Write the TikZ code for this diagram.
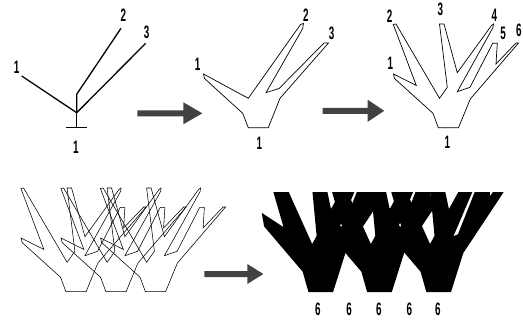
\documentclass[tikz,border=0pt]{standalone}
\usepackage{fontspec}
\setmainfont{Liberation Sans}
\definecolor{arrowgray}{RGB}{66,66,66}
% condensed bold digits
\newcommand\lbl[1]{\scalebox{0.55}[1]{#1}}
% outline of the six-branch tree, base centre at the origin
\newcommand\treeshape{(-54.9,-53.7) -- (-32.1,-42.2) -- (-55.1,-103.2) -- (-52.4,-103.7)
  -- (-8.9,-29.4) -- (-1.1,-40.4) -- (-8.9,-103.7) -- (-4.4,-103.7) -- (8.9,-55)
  -- (43.1,-102.2) -- (45.1,-103.7) -- (44.6,-100.2) -- (8.9,-36) -- (21.6,-40.4)
  -- (44.3,-84.4) -- (48.9,-84.4) -- (47.6,-63.7) -- (67.6,-84.7) -- (70.1,-84.7)
  -- (21.9,-28.7) -- (10.1,0) -- (-10.1,0) -- (-15.4,-14.4) -- (-53.9,-49.2) -- cycle}
\begin{document}
\begin{tikzpicture}[x=1pt,y=-1pt,
  wire/.style={line width=1.3pt, line join=miter},
  outline/.style={line width=0.7pt, line join=miter},
  overlay line/.style={line width=0.55pt, line join=miter},
  solid tree/.style={fill=black, draw=black, line width=6pt, line join=miter},
  digit/.style={font=\bfseries\fontsize{18}{18}\selectfont, inner sep=0pt},
  blockarrow/.style={fill=arrowgray, draw=none}]
\useasboundingbox (0,0) rectangle (523,321);

% ---- stage 1: line skeleton ----
\coordinate (j) at (76.7,112.7);
\coordinate (t1) at (21.7,76);
\coordinate (t2) at (121,28.3);
\coordinate (k2) at (76.7,94.3);
\coordinate (t3) at (145.7,43.3);
\coordinate (s) at (76.7,127.3);
\coordinate (bl) at (66,127.3);
\coordinate (br) at (87.3,127.3);
\draw[wire] (t1) -- (j);
\draw[wire] (t2) -- (k2) -- (j);
\draw[wire] (t3) -- (j);
\draw[wire] (j) -- (s);
\draw[wire] (bl) -- (br);
\node[digit] (a1) at (16.7,67.5) {\lbl{1}};
\node[digit] (a2) at (123.3,15.5) {\lbl{2}};
\node[digit] (a3) at (146.7,32) {\lbl{3}};
\node[digit] (a4) at (76,147.5) {\lbl{1}};

% ---- stage 2: three-branch outline ----
\draw[outline] (203.5,74) -- (248.3,98.3) -- (300.5,24.5) -- (303.5,23.5) -- (302.7,28.5)
  -- (266,92.7) -- (279.3,88.3) -- (324,43) -- (328.5,43) -- (280,98.3)
  -- (268.3,127.7) -- (248.3,127.7) -- (242.7,113.3) -- (204.5,78.5) -- cycle;
\node[digit] (b1) at (197.7,64) {\lbl{1}};
\node[digit] (b2) at (306,15) {\lbl{2}};
\node[digit] (b3) at (331.7,33) {\lbl{3}};
\node[digit] (b4) at (259.3,143) {\lbl{1}};

% ---- stage 3: six-branch outline ----
\begin{scope}[shift={(448.4,127.7)}]
  \draw[outline] \treeshape;
\end{scope}
\node[digit] (c1) at (390.3,63.7) {\lbl{1}};
\node[digit] (c2) at (389.7,16) {\lbl{2}};
\node[digit] (c3) at (440.5,9.5) {\lbl{3}};
\node[digit] (c4) at (494.5,15) {\lbl{4}};
\node[digit] (c5) at (503,33) {\lbl{5}};
\node[digit] (c6) at (519,30) {\lbl{6}};
\node[digit] (c7) at (447.3,142.7) {\lbl{1}};

% ---- stage 4: overlapping copies ----
\foreach \cx in {76,116,155.5}{
  \begin{scope}[shift={(\cx,291.7)}]
    \draw[overlay line] \treeshape;
  \end{scope}
}

% ---- stage 5: solid copies ----
\begin{scope}
  \clip (255,192.5) rectangle (523,300);
  \foreach \cx in {320.8,379.5,438.7}{
    \begin{scope}[shift={(\cx,289)}, xscale=1.0, yscale=1.3]
      \path[solid tree] \treeshape;
    \end{scope}
  }
\end{scope}
\foreach \x [count=\i] in {317.8,349.2,378.8,409.5,437.8}{
  \node[digit] (d\i) at (\x,309.2) {\lbl{6}};
}

% ---- block arrows ----
\fill[blockarrow] (137.3,110.3) -- (183.3,110.3) -- (183.3,102.3) -- (202.3,113.3)
  -- (183.3,124.3) -- (183.3,116.3) -- (137.3,116.3) -- cycle;
\fill[blockarrow] (322.7,107.8) -- (367.7,107.8) -- (367.7,99.8) -- (384.3,110.8)
  -- (367.7,121.8) -- (367.7,113.8) -- (322.7,113.8) -- cycle;
\fill[blockarrow] (204.3,271) -- (247.3,271) -- (247.3,264) -- (263.3,274)
  -- (247.3,284) -- (247.3,277) -- (204.3,277) -- cycle;
\end{tikzpicture}
\end{document}
